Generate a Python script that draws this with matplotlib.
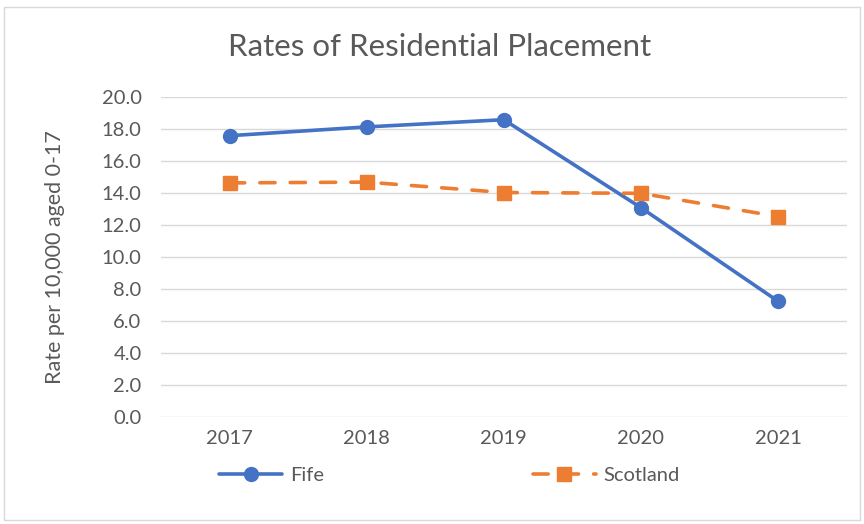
import matplotlib
matplotlib.use("Agg")
import matplotlib.pyplot as plt
from matplotlib.patches import Rectangle

years = ["2017", "2018", "2019", "2020", "2021"]
fife = [17.6, 18.15, 18.6, 13.1, 7.25]
scotland = [14.65, 14.7, 14.05, 14.0, 12.55]
yticks = [0, 2, 4, 6, 8, 10, 12, 14, 16, 18, 20]

grey = "#595959"
plt.rcParams["font.family"] = ["Lato", "DejaVu Sans"]

fig = plt.figure(figsize=(8.64, 5.24), dpi=100)
fig.patches.append(Rectangle((0.005, 0.008), 0.99, 0.978, transform=fig.transFigure,
                             fill=False, edgecolor="#D9D9D9", linewidth=1))
ax = fig.add_axes([0.1863, 0.2036, 0.7937, 0.6107])

x = list(range(len(years)))
ax.plot(x, fife, color="#4472C4", lw=2.6, marker="o", ms=10, label="Fife",
        solid_capstyle="round", zorder=3)
ax.plot(x, scotland, color="#ED7D31", lw=2.6, marker="s", ms=10, label="Scotland",
        linestyle=(0, (4.2, 4.2)), dash_capstyle="round", zorder=3)

ax.set_xlim(-0.5, len(years) - 0.5)
ax.set_ylim(0, 20)
ax.set_xticks(x)
ax.set_xticklabels(years)
ax.set_yticks(yticks)
ax.set_yticklabels([f"{v:.1f}" for v in yticks])
ax.tick_params(length=0, labelsize=14.5, colors=grey)
ax.tick_params(axis="y", pad=14)
ax.tick_params(axis="x", pad=9)
ax.grid(axis="y", color="#D9D9D9", lw=1)
ax.set_axisbelow(True)
for s in ax.spines.values():
    s.set_visible(False)

ax.set_ylabel("Rate per 10,000 aged 0-17", fontsize=15.5, color=grey)
ax.yaxis.set_label_coords(-0.14, 0.5)
fig.text(0.509, 0.91, "Rates of Residential Placement", ha="center", va="center",
         fontsize=22.5, color=grey)

leg = ax.legend(loc="center", bbox_to_anchor=(0.421, -0.181), ncol=2, frameon=False,
                handlelength=3.1, columnspacing=10.4, handletextpad=0.4, fontsize=14.5)
for t in leg.get_texts():
    t.set_color(grey)

fig.savefig("out.png", dpi=100)
